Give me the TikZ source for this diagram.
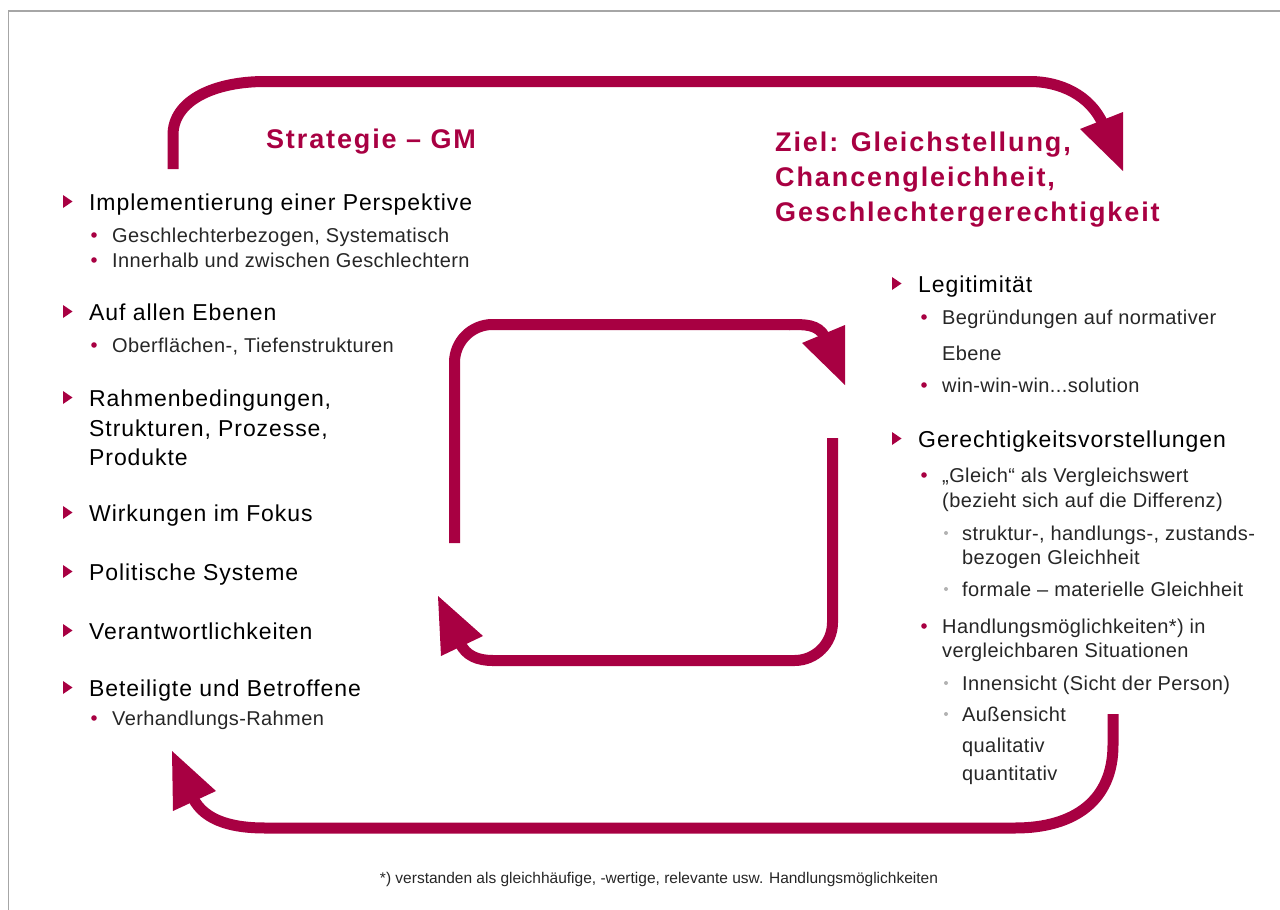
\documentclass[tikz,border=0pt]{standalone}
\usepackage{fontspec}
\setmainfont{Liberation Sans}
\definecolor{gmred}{HTML}{A80042}

\begin{document}
\begin{tikzpicture}[x=1pt,y=-1pt,
    bigtext/.style={anchor=base west,inner sep=0pt,text=black,font=\fontsize{23}{28}\selectfont\addfontfeature{LetterSpace=4}},
    smalltext/.style={anchor=base west,inner sep=0pt,text=black!85,font=\fontsize{20}{24}\selectfont\addfontfeature{LetterSpace=2}},
    headline/.style={anchor=base west,inner sep=0pt,text=gmred,font=\fontsize{27}{32}\selectfont\bfseries\addfontfeature{LetterSpace=7}},
    band/.style={gmred,line width=11pt},
    headfill/.style={fill=gmred}]
    \useasboundingbox (0,0) rectangle (1280,910);
    \draw[gray!70,line width=1.5pt] (8.5,910) -- (8.5,11) -- (1280,11);

    \node[headline,anchor=base] (strat) at (371,148) {Strategie -- GM};
    \node[headline] (ziel1) at (775,151) {Ziel: Gleichstellung,};
    \node[headline] (ziel2) at (775,186) {Chancengleichheit,};
    \node[headline] (ziel3) at (775,221) {Geschlechtergerechtigkeit};

    \node[bigtext] (impl) at (89,210) {Implementierung einer Perspektive};
    \node[smalltext] (geschl) at (112,242) {Geschlechterbezogen, Systematisch};
    \node[smalltext] (inner) at (112,267) {Innerhalb und zwischen Geschlechtern};
    \node[bigtext] (ebenen) at (89,320) {Auf allen Ebenen};
    \node[smalltext] (oberfl) at (112,352) {Oberflächen-, Tiefenstrukturen};
    \node[bigtext] (rahmen) at (89,406) {Rahmenbedingungen,};
    \node[bigtext] (struk) at (89,436) {Strukturen, Prozesse,};
    \node[bigtext] (produkte) at (89,465) {Produkte};
    \node[bigtext] (wirk) at (89,521) {Wirkungen im Fokus};
    \node[bigtext] (polit) at (89,580) {Politische Systeme};
    \node[bigtext] (verant) at (89,639) {Verantwortlichkeiten};
    \node[bigtext] (beteil) at (89,696) {Beteiligte und Betroffene};
    \node[smalltext] (verhand) at (112,725) {Verhandlungs-Rahmen};

    \node[bigtext] (legit) at (918,292) {Legitimität};
    \node[smalltext] (begr) at (942,324) {Begründungen auf normativer};
    \node[smalltext] (ebene) at (942,360) {Ebene};
    \node[smalltext] (winwin) at (942,392) {win-win-win...solution};
    \node[bigtext] (gerecht) at (918,447) {Gerechtigkeitsvorstellungen};
    \node[smalltext] (gleich) at (942,482) {„Gleich“ als Vergleichswert};
    \node[smalltext] (bezieht) at (942,507) {(bezieht sich auf die Differenz)};
    \node[smalltext] (struktur) at (962,540) {struktur-, handlungs-, zustands-};
    \node[smalltext] (bezogen) at (962,564) {bezogen Gleichheit};
    \node[smalltext] (formal) at (962,596) {formale -- materielle Gleichheit};
    \node[smalltext] (handl) at (942,633) {Handlungsmöglichkeiten*) in};
    \node[smalltext] (vergl) at (942,657) {vergleichbaren Situationen};
    \node[smalltext] (innen) at (962,690) {Innensicht (Sicht der Person)};
    \node[smalltext] (aussen) at (962,721) {Außensicht};
    \node[smalltext] (qual) at (962,752) {qualitativ};
    \node[smalltext] (quant) at (962,780) {quantitativ};

    \node[anchor=base,inner sep=0pt,text=black!85,font=\fontsize{15.5}{18}\selectfont] (fussnote) at (659,883)
        {*) verstanden als gleichhäufige, -wertige, relevante usw. Handlungsmöglichkeiten};

    \foreach \n in {impl,ebenen,rahmen,wirk,polit,verant,beteil,legit,gerecht}
        \fill[gmred] ([xshift=-26pt]\n.base west) ++(0,-15) -- ++(9.5,6.5) -- ++(-9.5,6.5) -- cycle;
    \foreach \n in {geschl,inner,oberfl,verhand,begr,winwin,gleich,handl}
        \fill[gmred] ([xshift=-18pt,yshift=7pt]\n.base west) circle[radius=2.8pt];
    \foreach \n in {struktur,formal,innen,aussen}
        \fill[gray!60] ([xshift=-16pt,yshift=7pt]\n.base west) circle[radius=2pt];

    \draw[band] (173,169) -- (173,135) .. controls (173,100) and (215,81.5) .. (265,81.5)
        -- (1030,81.5) .. controls (1060,81.5) and (1090,95) .. (1103,124);
    \fill[headfill] (1080,129) -- (1123,112) -- (1123,171) -- cycle;

    \draw[band,rounded corners=38pt] (454.5,543) -- (454.5,324.5) -- (790,324.5);
    \draw[band] (789,324.5) .. controls (805,324.5) and (818,324) .. (825,337);
    \fill[headfill] (802,343) -- (845,325) -- (845,385) -- cycle;

    \draw[band,rounded corners=38pt] (832.5,438) -- (832.5,660.5) -- (492,660.5);
    \draw[band] (493,660.5) .. controls (478,660.5) and (466,656) .. (460,643);
    \fill[headfill] (441,656) -- (483,636) -- (438,596) -- cycle;

    \draw[band] (1113,714) -- (1113,745) .. controls (1113,800) and (1075,828) .. (1015,828)
        -- (265,828) .. controls (235,828) and (205,822) .. (193,798);
    \fill[headfill] (173,811) -- (216,791) -- (172,751) -- cycle;
\end{tikzpicture}
\end{document}
